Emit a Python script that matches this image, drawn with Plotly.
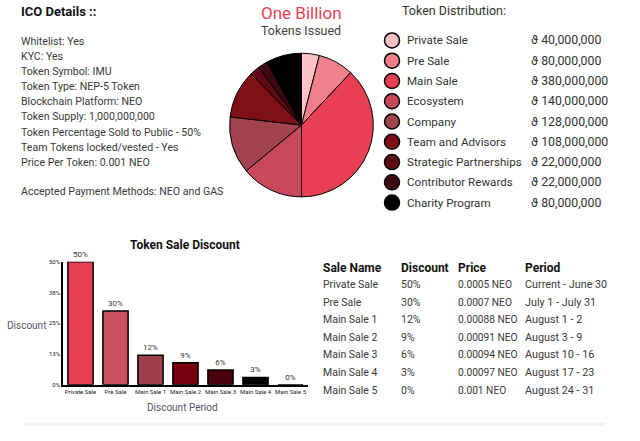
import plotly.graph_objects as go

W, H = 640, 441

# ---- data ----
ico_lines = ["Whitelist: Yes", "KYC: Yes", "Token Symbol: IMU", "Token Type: NEP-5 Token",
             "Blockchain Platform: NEO", "Token Supply: 1,000,000,000",
             "Token Percentage Sold to Public - 50%", "Team Tokens locked/vested - Yes",
             "Price Per Token: 0.001 NEO"]
payment_line = "Accepted Payment Methods: NEO and GAS"

dist_labels = ["Private Sale", "Pre Sale", "Main Sale", "Ecosystem", "Company",
               "Team and Advisors", "Strategic Partnerships", "Contributor Rewards", "Charity Program"]
dist_values = [40000000, 80000000, 380000000, 140000000, 128000000, 108000000, 22000000, 22000000, 80000000]
dist_colors = ["#FDC0C6", "#F2808A", "#E84052", "#C8485A", "#A2444E", "#7E1016", "#600A14", "#3E0810", "#000000"]

sale_names = ["Private Sale", "Pre Sale", "Main Sale 1", "Main Sale 2", "Main Sale 3", "Main Sale 4", "Main Sale 5"]
discounts = [50, 30, 12, 9, 6, 3, 0]
bar_colors = ["#E84052", "#C8505E", "#A0404C", "#780010", "#480010", "#000000", "#000000"]
prices = ["0.0005 NEO", "0.0007 NEO", "0.00088 NEO", "0.00091 NEO", "0.00094 NEO", "0.00097 NEO", "0.001 NEO"]
periods = ["Current - June 30", "July 1 - July 31", "August 1 - 2", "August 3 - 9",
           "August 10 - 16", "August 17 - 23", "August 24 - 31"]
ytick_vals = [0, 12.5, 25, 37.5, 50]
ytick_text = ["0%", "13%", "25%", "38%", "50%"]

FONT = "Roboto"
TXT = "#3a3a3a"


def px(x):
    return x / W


def py(y):
    return 1 - y / H


fig = go.Figure()

# pie
fig.add_trace(go.Pie(
    labels=dist_labels, values=dist_values, sort=False, direction="clockwise", rotation=0,
    marker=dict(colors=dist_colors, line=dict(color="#000000", width=1)),
    textinfo="none", showlegend=False, hoverinfo="label+value",
    domain=dict(x=[px(229), px(374)], y=[py(196), py(50)]),
))

# bar chart
fig.add_trace(go.Bar(
    x=sale_names, y=discounts, marker=dict(color=bar_colors, line=dict(color="#000000", width=1.5)),
    text=[f"{d}%" for d in discounts], textposition="outside", cliponaxis=False,
    textfont=dict(size=8, color="#333", family=FONT), width=0.72, showlegend=False,
    xaxis="x", yaxis="y",
))

# legend markers (pixel overlay axes)
legend_y = [37 + i * 20.6 for i in range(len(dist_labels))]
fig.add_trace(go.Scatter(
    x=[392] * len(dist_labels), y=legend_y, mode="markers",
    marker=dict(size=15, color=dist_colors, line=dict(color="#000000", width=1.5)),
    xaxis="x2", yaxis="y2", showlegend=False, hoverinfo="skip",
))

ann = []


def text(x, y, s, size=11, color=TXT, bold=False, xanchor="left", yanchor="middle"):
    ann.append(dict(x=px(x), y=py(y), xref="paper", yref="paper", text=(f"<b>{s}</b>" if bold else s),
                    showarrow=False, xanchor=xanchor, yanchor=yanchor,
                    font=dict(family=FONT, size=size, color=color)))


# ICO details
text(19, 8, "ICO Details ::", size=13, color="#111", bold=True)
for i, line in enumerate(ico_lines):
    text(19, 38 + i * 15.35, line, size=10.6)
text(19, 191, payment_line, size=10.6)

# pie title
text(301, 9.5, "One Billion", size=17, color="#E84052", xanchor="center")
text(301, 27, "Tokens Issued", size=12.5, color="#444", xanchor="center")

# distribution legend
text(400, 7, "Token Distribution:", size=12.5, color="#333")
for i, (lab, val) in enumerate(zip(dist_labels, dist_values)):
    text(405, legend_y[i], lab, size=11.6, color="#333")
    text(529, legend_y[i], f"\u03d1 {val:,}", size=12.3, color="#333")

# bar chart texts
text(185, 245, "Token Sale Discount", size=12, color="#111", bold=True, xanchor="center")
text(26, 327, "Discount", size=10, color="#556", xanchor="center")
text(182, 410, "Discount Period", size=10, color="#556", xanchor="center")

# table
cols_x = [321, 399, 456, 523]
headers = ["Sale Name", "Discount", "Price", "Period"]
for cx, h in zip(cols_x, headers):
    text(cx, 268, h, size=12, color="#111", bold=True)
for i in range(len(sale_names)):
    yy = 285 + i * 17.9
    text(cols_x[0], yy, sale_names[i], size=10.5)
    text(cols_x[1], yy, f"{discounts[i]}%", size=10.5)
    text(cols_x[2], yy, prices[i], size=10.2)
    text(cols_x[3], yy, periods[i], size=10.8)

shapes = [dict(type="line", xref="paper", yref="paper", x0=px(24), x1=px(605), y0=py(427), y1=py(427),
               line=dict(color="#F2F2F2", width=3))]

fig.update_layout(
    width=W, height=H, margin=dict(l=0, r=0, t=0, b=0),
    paper_bgcolor="white", plot_bgcolor="rgba(0,0,0,0)",
    annotations=ann, shapes=shapes,
    xaxis=dict(domain=[px(63), px(308)], showgrid=False, showline=True, linecolor="#000", linewidth=1.5,
               tickfont=dict(size=6, color="#222", family=FONT), ticks="", range=[-0.5, 6.5], fixedrange=True),
    yaxis=dict(domain=[py(387), py(262)], range=[0, 50], showgrid=False, zeroline=False, showline=True,
               linecolor="#000", linewidth=1.5, tickvals=ytick_vals, ticktext=ytick_text,
               tickfont=dict(size=6, color="#222", family=FONT), ticks="", fixedrange=True),
    xaxis2=dict(domain=[0, 1], range=[0, W], visible=False, fixedrange=True),
    yaxis2=dict(domain=[0, 1], range=[H, 0], visible=False, fixedrange=True),
    font=dict(family=FONT),
)

fig.write_html("out.html", config={"displayModeBar": False},
               post_script="document.body.style.margin='0';")
